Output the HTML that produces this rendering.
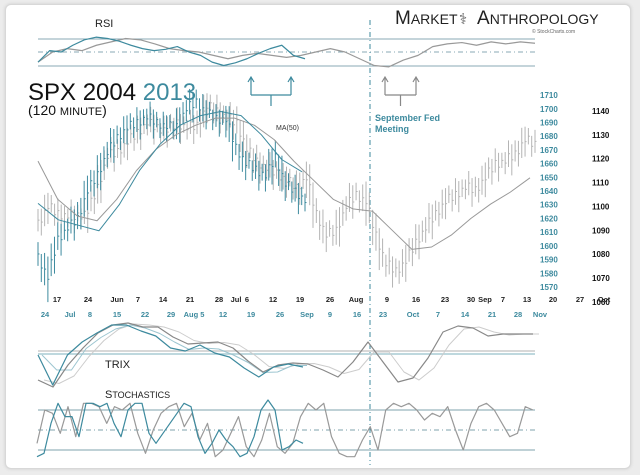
<!DOCTYPE html>
<html><head><meta charset="utf-8">
<style>
html,body{margin:0;padding:0;background:#e9e9e9;}
#wrap{position:relative;width:640px;height:475px;overflow:hidden;background:#ececec;}
#card{position:absolute;left:5px;top:4px;width:624px;height:463px;background:#fff;border:1px solid #d8d8d8;border-radius:6px;box-shadow:0 0 3px #ccc;}
svg{position:absolute;left:0;top:0;}
text{font-family:"Liberation Sans",sans-serif;}
</style></head>
<body>
<div id="wrap">
<div id="card"></div>
<svg id="chart" width="640" height="475">
 <text x="395" y="24" font-family="Liberation Serif" font-size="19" fill="#222">M<tspan font-size="14">ARKET</tspan></text>
 <text x="459" y="24" font-size="15" fill="#555">⚕</text>
 <text x="477" y="24" font-family="Liberation Serif" font-size="19" fill="#222">A<tspan font-size="14">NTHROPOLOGY</tspan></text>
 <text x="532" y="33" font-size="5" fill="#666">© StockCharts.com</text>
 <text x="95" y="27" font-size="11" fill="#222">RSI</text>
 <text x="28" y="100" font-size="24" fill="#111">SPX 2004 <tspan fill="#3d8a9e">2013</tspan></text>
 <text x="28" y="115" font-family="Liberation Serif" font-size="14" fill="#111">(120 <tspan font-size="11">MINUTE</tspan>)</text>
 <text x="276" y="130" font-size="7" fill="#333">MA(50)</text>
 <text x="375" y="121" font-family="Liberation Serif" font-size="9" font-weight="bold" fill="#3d8a9e">September Fed</text>
 <text x="375" y="132" font-family="Liberation Serif" font-size="9" font-weight="bold" fill="#3d8a9e">Meeting</text>
 <text x="105" y="368" font-size="11" fill="#222">TRIX</text>
 <text x="105" y="398" font-size="11" fill="#222">S<tspan font-size="9">TOCHASTICS</tspan></text>
 <g id="g"></g>
</svg>
</div>
<script>
// ---- data ----
const price2004 = [1093,1100,1097,1096,1096,1098,1108,1121,1123,1127,1131,1135,1133,1132,1135,1133,1134,1142,1140,1137,1135,1124,1119,1116,1114,1111,1108,1112,1097,1088,1090,1100,1105,1102,1088,1076,1073,1077,1085,1091,1097,1102,1105,1108,1107,1112,1118,1119,1122,1128,1126];
const price2013 = [1592,1577,1605,1613,1620,1640,1652,1668,1679,1686,1690,1694,1690,1687,1687,1700,1705,1697,1693,1692,1672,1660,1656,1651,1665,1645,1640,1633];
const ma2004 = [1119,1103,1096,1094,1103,1115,1124,1130,1134,1137,1137,1134,1128,1119,1111,1103,1099,1098,1090,1082,1083,1088,1095,1101,1106,1112];
const ma2013 = [1631,1619,1615,1611,1630,1655,1674,1688,1695,1698,1695,1681,1663,1654];
const rsi2004 = [35,50,55,52,60,65,70,68,62,55,52,50,45,40,45,48,45,42,45,50,55,50,40,30,28,38,45,58,62,64,60,65,62,65,63];
const rsi2013 = [35,52,50,60,68,72,70,66,60,55,52,54,58,50,45,35,30,34,40,48,55,60,45,40];
const trix2004 = [-7,-8.75,-3.25,1,4.75,6.75,7.25,6.25,6.25,3.75,2,2.25,2.5,1,-2.25,-5,-3.25,-2.75,-3,-4.5,-6.25,-2.5,2.5,-2.5,-7.5,-6.5,-1.5,5,6.5,6,4,4.5,4.5,4.5];
const trix2013 = [-0.75,-8.25,-0.75,2.5,4.75,6.75,6.75,5.25,4,1,0.25,1.75,-0.25,-1.25,-4,-6.25,-3.75,-3,-3.75];
const stoch2004 = [30,80,75,45,85,40,90,90,85,60,85,80,90,45,15,50,75,85,90,55,75,35,60,10,20,45,70,25,10,35,75,25,15,30,70,90,80,90,40,15,10,10,35,55,20,80,90,85,90,80,65,75,70,85,50,20,60,85,90,80,60,40,45,85,80];
const stoch2013 = [10,15,60,90,70,70,40,90,90,85,90,60,40,80,90,90,45,30,45,60,75,90,85,40,15,30,50,35,25,10,15,40,80,95,80,20,25,35,30];
const leftTicks = [1710,1700,1690,1680,1670,1660,1650,1640,1630,1620,1610,1600,1590,1580,1570];
const rightTicks = [1140,1130,1120,1110,1100,1090,1080,1070,1060];
const dates1 = ["17","24","Jun","7","14","21","28","Jul","6","12","19","26","Aug","9","16","23","30","Sep","7","13","20","27","Oct"];
const dates1x = [57,88,117,138,163,190,219,236,247,273,300,330,356,387,416,445,471,485,503,527,553,580,604];
const dates2 = ["24","Jul","8","15","22","29","Aug 5","12","19","26","Sep","9","16","23","Oct","7","14","21","28","Nov"];
const dates2x = [45,70,90,117,145,171,194,223,251,280,307,330,357,383,413,438,465,492,518,540];
// ---- scales ----
const X0=38, X1=535, X13=305;
const yA = v => 287 - (v-1570)*1.371;
const yB = v => 111 + (1140-v)*2.386;
const yR = v => 52 - (v-50)*0.675;
const yT = v => 352 - v*4;
const yS = v => 430 - (v-50)*0.667;
const xs = (arr,a,b) => i => a + i*(b-a)/(arr.length-1);
const g = document.getElementById('g');
const NS='http://www.w3.org/2000/svg';
function el(t,a,p){const e=document.createElementNS(NS,t);for(const k in a)e.setAttribute(k,a[k]);(p||g).appendChild(e);return e;}
function line(x1,y1,x2,y2,c,w,d){return el('line',{x1,y1,x2,y2,stroke:c,'stroke-width':w||1,'stroke-dasharray':d||''});}
function poly(arr,xf,yf,c,w){return el('polyline',{points:arr.map((v,i)=>xf(i)+','+yf(v)).join(' '),fill:'none',stroke:c,'stroke-width':w||1,'stroke-linejoin':'round'});}
const TEAL='#3d8a9e', GRAY='#999';
[[39,'#8aaab5',''],[52,'#8aaab5','5,3,1,3'],[66,'#8aaab5','']].forEach(([y,c,d])=>{const l=line(X0,y,X1,y,c,1,d);});
[[351,'#ccc'],[354,'#a9cbd4']].forEach(([y,c])=>{const l=line(X0,y,X1,y,c,1.5);});
[[410,'#7fa3ae',''],[430,'#7fa3ae','5,3,1,3'],[450,'#7fa3ae','']].forEach(([y,c,d])=>{const l=line(X0,y,X1,y,c,1,d);});
const fed=line(370,20,370,465,TEAL,1,'5,3,1,3');


function bars(arr,end,yf,c,name,unit){
  const n=(arr.length-1)*3;
  const wig=[0.6,-0.9,0.3,-0.4,1,-0.7];
  for(let k=0;k<=n;k++){
    const i=Math.floor(k/3), f=(k%3)/3;
    const a=arr[i], b=arr[Math.min(i+1,arr.length-1)];
    const v=a+(b-a)*f+wig[k%6]*unit;
    const x=X0+k*(end-X0)/n;
    const spread=unit*(1.4+(k%4)*0.45)+Math.abs(b-a)*0.25;
    const l=line(x,yf(v+spread),x,yf(v-spread),c,1);
    
    
    line(x,yf(v),x+1.5,yf(v),c,1);
  }
}
bars(price2004,X1,yB,'#b4b4b4','bar-2004',2.1);
bars(price2013,X13,yA,TEAL,'bar-2013',3.5);
const ma04=poly(ma2004,xs(ma2004,38,530),yB,'#999',1);


const ma13=poly(ma2013,xs(ma2013,38,302),yA,TEAL,1);


function sig(arr){return arr.map((_,i)=>{const s=arr.slice(Math.max(0,i-1),i+1);return s.reduce((a,b)=>a+b,0)/s.length;});}
const s04=poly(sig(trix2004),i=>xs(trix2004,38,533)(i)+6,yT,'#ccc',1);


const s13=poly(sig(trix2013),i=>xs(trix2013,38,303)(i)+4,yT,'#9cc5d0',1);


[[rsi2004,X0,X1,yR,GRAY,'rsi-2004'],[rsi2013,X0,X13,yR,TEAL,'rsi-2013'],[trix2004,38,533,yT,'#888','trix-2004'],[trix2013,38,303,yT,TEAL,'trix-2013'],[stoch2004,37,533,yS,'#999','stoch-2004'],[stoch2013,37,303,yS,TEAL,'stoch-2013']].forEach(([a,s,e,yf,c,n])=>{
  const p=poly(a,xs(a,s,e),yf,c,1.2);
  
  
});
leftTicks.forEach(v=>{const t=el('text',{x:540,y:yA(v)+3,'font-size':8,'font-weight':'bold',fill:TEAL});t.textContent=v;
 
 });
rightTicks.forEach(v=>{const t=el('text',{x:592,y:yB(v)+3,'font-size':8,'font-weight':'bold',fill:'#111'});t.textContent=v;
 
 });
dates1.forEach((d,i)=>{const t=el('text',{x:dates1x[i],y:302,'font-size':7.5,'font-weight':'bold',fill:'#222','text-anchor':'middle'});t.textContent=d;
 
 });
dates2.forEach((d,i)=>{const t=el('text',{x:dates2x[i],y:317,'font-size':7.5,'font-weight':'bold',fill:TEAL,'text-anchor':'middle'});t.textContent=d;
 
 });
function bracket(x1,x2,c,n){
  const p=el('path',{d:`M${x1},95 L${x1},78 M${x1-3},82 L${x1},77 L${x1+3},82 M${x2},95 L${x2},78 M${x2-3},82 L${x2},77 L${x2+3},82 M${x1},95 L${x2},95 M${(x1+x2)/2},95 L${(x1+x2)/2},106`,stroke:c,fill:'none','stroke-width':1.2});
  
  
}
bracket(251,291,TEAL,'bracket-2013');
bracket(385,416,'#888','bracket-2004');
</script>
</body></html>
